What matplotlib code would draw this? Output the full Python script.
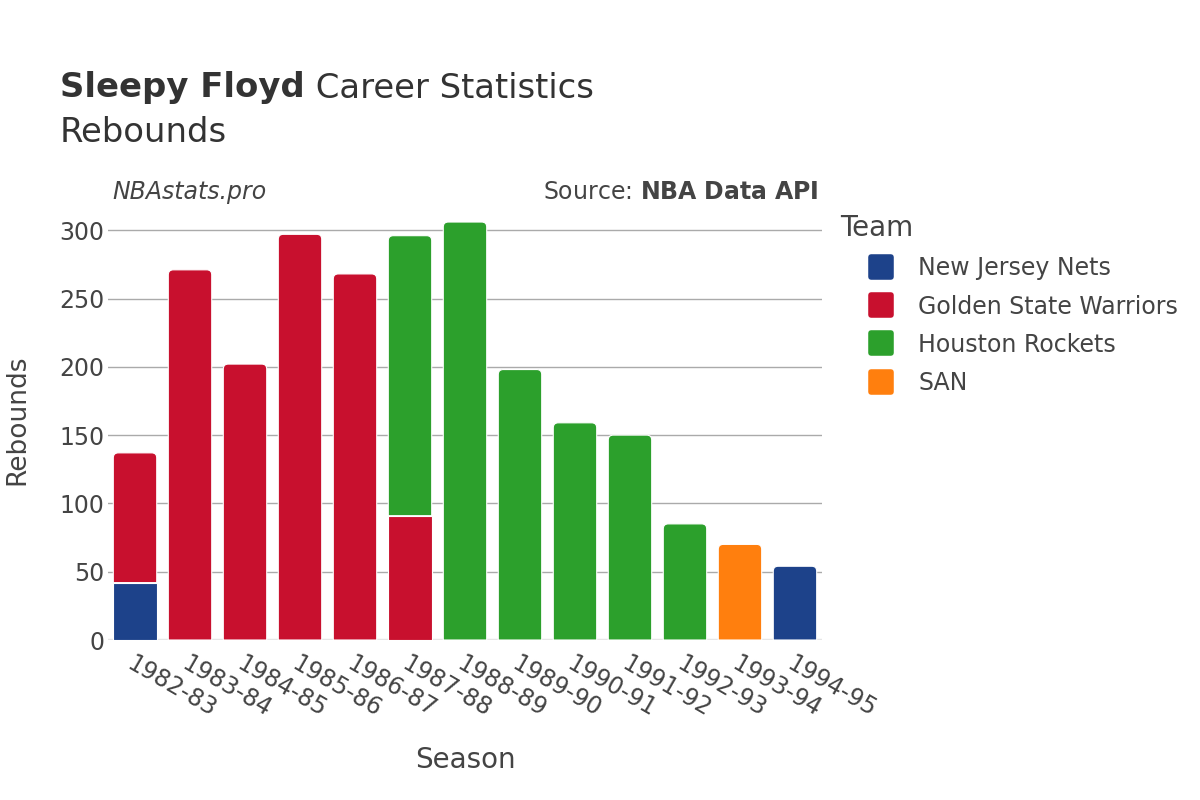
import matplotlib.pyplot as plt
import numpy as np
from matplotlib.lines import Line2D
from matplotlib.markers import MarkerStyle
from matplotlib.path import Path
from matplotlib.patches import PathPatch

seasons = ["1982-83", "1983-84", "1984-85", "1985-86", "1986-87", "1987-88", "1988-89",
           "1989-90", "1990-91", "1991-92", "1992-93", "1993-94", "1994-95"]
teams = ["New Jersey Nets", "Golden State Warriors", "Houston Rockets", "SAN"]
team_colors = ["#1D428A", "#C8102E", "#2CA02C", "#FF7F0E"]

# rebounds per team per season (stacked)
nets = [42, 0, 0, 0, 0, 0, 0, 0, 0, 0, 0, 0, 54]
warriors = [95, 271, 202, 297, 268, 91, 0, 0, 0, 0, 0, 0, 0]
rockets = [0, 0, 0, 0, 0, 205, 306, 198, 159, 150, 85, 0, 0]
san = [0, 0, 0, 0, 0, 0, 0, 0, 0, 0, 0, 70, 0]

text_color = "#444444"
plt.rcParams['font.family'] = ['DejaVu Sans']

fig = plt.figure(figsize=(12, 8), dpi=100)
ax = fig.add_axes([0.0896, 0.2, 0.5958, 0.531])
ax.set_xlim(-0.5, len(seasons) - 0.5)
ax.set_ylim(0, 311)

# corner radius (5 px) in data units
p0 = ax.transData.transform((0, 0))
p1 = ax.transData.transform((1, 1))
rx = 5.0 / (p1[0] - p0[0])
ry = 5.0 / (p1[1] - p0[1])

x = np.arange(len(seasons))
bottom = np.zeros(len(seasons))
all_vals = [np.array(v, dtype=float) for v in [nets, warriors, rockets, san]]
total = np.sum(all_vals, axis=0)
for vals, color in zip(all_vals, team_colors):
    bars = ax.bar(x, vals, width=0.79, bottom=bottom, color=color,
                  edgecolor="white", linewidth=0.8, zorder=3)
    for i, b in enumerate(bars):
        if vals[i] == 0:
            b.set_visible(False)
            continue
        if abs(bottom[i] + vals[i] - total[i]) < 1e-9:
            # top segment of the stack: rounded top corners
            x0, y0 = b.get_x(), b.get_y()
            x1, y1 = x0 + b.get_width(), y0 + b.get_height()
            verts = [(x0, y0), (x1, y0), (x1, y1 - ry), (x1, y1), (x1 - rx, y1),
                     (x0 + rx, y1), (x0, y1), (x0, y1 - ry), (x0, y0)]
            codes = [Path.MOVETO, Path.LINETO, Path.LINETO, Path.CURVE3, Path.CURVE3,
                     Path.LINETO, Path.CURVE3, Path.CURVE3, Path.CLOSEPOLY]
            ax.add_patch(PathPatch(Path(verts, codes), facecolor=color,
                                   edgecolor="white", linewidth=0.8, zorder=3))
            b.set_visible(False)
    bottom += vals

ax.set_yticks([0, 50, 100, 150, 200, 250, 300])
ax.grid(axis='y', color="#aaaaaa", linewidth=1, zorder=0)
ax.axhline(0, color="#e6e6e6", linewidth=2.5, zorder=2)
for s in ax.spines.values():
    s.set_visible(False)

ax.set_xticks(x)
ax.set_xticklabels(seasons, rotation=-30, ha='left', va='top',
                   rotation_mode='anchor', fontsize=17, color=text_color)
ax.tick_params(axis='x', length=0, pad=8)
ax.tick_params(axis='y', length=0, pad=2, labelsize=17, labelcolor=text_color)

ax.set_xlabel("Season", fontsize=20, color=text_color, labelpad=18)
fig.text(0.004, 0.475, "Rebounds", rotation=90, fontsize=19, color=text_color,
         ha='left', va='center')

# title
t1 = fig.text(0.05, 0.89, "Sleepy Floyd", fontsize=24.4, fontweight='bold',
              color="#333333", ha='left', va='center')
fig.canvas.draw()
bb = t1.get_window_extent(renderer=fig.canvas.get_renderer())
fig.text(bb.x1 / fig.bbox.width, 0.89, " Career Statistics", fontsize=24.4,
         color="#333333", ha='left', va='center')
fig.text(0.05, 0.835, "Rebounds", fontsize=24.4, color="#333333", ha='left', va='center')

fig.text(0.094, 0.76, "NBAstats.pro", fontsize=17, style='italic', color=text_color,
         ha='left', va='center')
fig.text(0.682, 0.76, r"Source: $\bf{NBA\ Data\ API}$", fontsize=17, color=text_color,
         ha='right', va='center')

handles = [Line2D([0], [0], marker=MarkerStyle('s', joinstyle='round'), linestyle='none',
                  markersize=15, markeredgewidth=4,
                  markerfacecolor=c, markeredgecolor=c) for c in team_colors]
leg = fig.legend(handles, teams, title="Team", loc='upper left',
                 bbox_to_anchor=(0.6925, 0.744), frameon=False, fontsize=17,
                 title_fontsize=20, labelspacing=0.6, handlelength=3.4,
                 handletextpad=-0.1, borderaxespad=0)
leg._legend_box.align = "left"
for t in leg.get_texts():
    t.set_color(text_color)
leg.get_title().set_color(text_color)

fig.savefig("out.png", dpi=100, facecolor="white")
